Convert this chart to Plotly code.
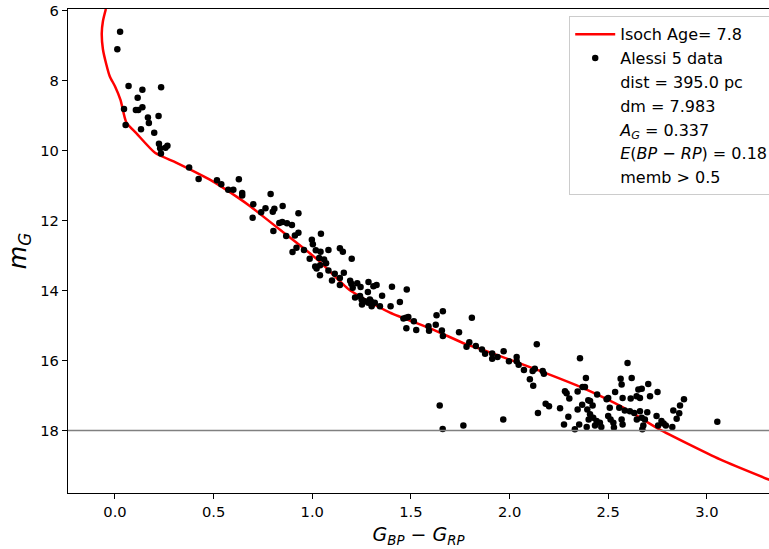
import plotly.graph_objects as go

# Isochrone (colour, magnitude)
iso_color = [-0.046, -0.061, -0.067, -0.061, -0.043, -0.026, 0.0, 0.028, 0.058, 0.108,
             0.203, 0.31, 0.481, 0.633, 0.685, 0.854, 1.025, 1.186, 1.242, 1.394,
             1.61, 1.781, 1.862, 2.154, 2.376, 2.577, 2.753, 3.067, 3.333]
iso_mag = [5.95, 6.3, 6.65, 7.1, 7.55, 7.88, 8.16, 8.55, 9.2, 9.5,
           10.06, 10.34, 10.83, 11.38, 11.59, 12.34, 13.11, 13.97, 14.17, 14.63,
           15.11, 15.54, 15.69, 16.3, 16.8, 17.35, 17.95, 18.83, 19.45]

# Alessi 5 members (BP-RP, G)
star_color = [
    0.026, 0.012, 0.069, 0.139, 0.234, 0.115, 0.046, 0.106, 0.118, 0.139,
    0.167, 0.221, 0.172, 0.054, 0.132, 0.199, 0.223, 0.229, 0.233, 0.256,
    0.266, 0.376, 0.424, 0.517, 0.539, 0.628, 0.574, 0.6, 0.645, 0.645,
    0.701, 0.698, 0.741, 0.763, 0.789, 0.8, 0.808, 0.85, 0.93, 0.803,
    0.833, 0.848, 0.872, 0.897, 0.868, 0.912, 0.93, 0.9, 0.92, 0.958,
    0.998, 1.003, 1.044, 1.018, 1.042, 1.082, 0.987, 1.035, 1.06, 1.14,
    1.155, 1.2, 1.015, 1.04, 1.07, 1.022, 1.082, 1.039, 1.114, 1.1,
    1.14, 1.16, 1.192, 1.14, 1.198, 1.228, 1.245, 1.205, 1.285, 1.31,
    1.326, 1.282, 1.242, 1.25, 1.267, 1.284, 1.297, 1.317, 1.354, 1.404,
    1.479, 1.343, 1.397, 1.444, 1.301, 1.217, 1.252, 1.292,
    1.475, 1.487, 1.462, 1.477, 1.515, 1.527, 1.589, 1.592, 1.626, 1.63,
    1.662, 1.657, 1.662, 1.744, 1.809, 1.796, 1.782, 1.829, 1.86, 1.876,
    1.912, 1.912, 1.939, 1.97, 1.997, 2.036, 2.036, 2.046, 2.073, 2.103,
    2.12, 2.117, 2.128, 2.138, 2.168, 2.174, 2.183, 2.2, 2.144, 1.646,
    1.661, 1.766, 1.968,
    2.357, 2.598, 2.256, 2.281, 2.289, 2.303, 2.276, 2.298, 2.331, 2.345,
    2.353, 2.368, 2.37, 2.382, 2.387, 2.345, 2.399, 2.408, 2.421, 2.394,
    2.408, 2.401, 2.391, 2.424, 2.444, 2.441, 2.433, 2.458, 2.465, 2.492,
    2.5, 2.508, 2.5, 2.512, 2.526, 2.529, 2.535, 2.563, 2.568, 2.573,
    2.556, 2.584, 2.568, 2.573, 2.614, 2.619, 2.61, 2.632, 2.653, 2.67,
    2.644, 2.661, 2.661, 2.645, 2.67, 2.678, 2.703, 2.712, 2.698, 2.745,
    2.75,
    2.884, 2.864, 2.83, 2.86, 2.847, 2.686, 2.77, 2.781, 2.792, 2.753,
    2.825, 3.053, 2.673]
star_mag = [
    6.6, 7.1, 8.15, 8.26, 8.19, 8.49, 8.81, 8.84, 8.84, 8.76,
    9.05, 9.01, 9.21, 9.27, 9.39, 9.49, 9.8, 9.93, 10.08, 9.92,
    9.86, 10.48, 10.81, 10.85, 10.96, 10.82, 11.12, 11.12, 11.21, 11.28,
    11.53, 11.92, 11.76, 11.65, 11.24, 11.75, 11.66, 11.58, 11.79, 12.3,
    12.07, 12.04, 12.08, 12.13, 12.44, 12.43, 12.35, 12.9, 12.78, 12.84,
    12.55, 12.68, 12.38, 12.85, 12.89, 12.84, 13.09, 13.07, 13.11, 12.79,
    12.89, 13.09, 13.31, 13.28, 13.22, 13.37, 13.43, 13.56, 13.52, 13.71,
    13.64, 13.49, 13.72, 13.84, 13.81, 13.79, 13.9, 13.92, 13.76, 13.88,
    13.84, 14.04, 14.16, 14.26, 14.31, 14.35, 14.31, 14.35, 14.15, 13.89,
    13.97, 14.45, 14.45, 14.33, 14.45, 14.2, 14.4, 14.26,
    14.78, 14.76, 14.8, 15.08, 14.88, 15.13, 15.02, 15.15, 14.98, 14.71,
    14.59, 15.14, 15.3, 15.19, 14.78, 15.48, 15.61, 15.59, 15.69, 15.81,
    15.8, 15.95, 15.9, 15.74, 16.02, 15.9, 16.02, 16.12, 16.27, 16.54,
    16.72, 16.3, 16.24, 15.54, 16.3, 16.38, 17.24, 17.31, 17.5, 17.29,
    17.96, 17.86, 17.69,
    15.94, 16.07, 17.37, 16.88, 16.94, 17.09, 17.83, 17.61, 17.97, 17.4,
    17.83, 17.27, 16.76, 16.76, 16.5, 16.89, 17.14, 17.16, 17.29, 17.4,
    17.54, 17.69, 17.9, 17.64, 16.97, 17.73, 17.86, 17.78, 17.9, 17.11,
    17.07, 17.35, 17.59, 17.69, 17.78, 17.92, 16.9, 16.52, 16.69, 17.07,
    17.35, 17.43, 17.69, 17.83, 17.09, 16.5, 17.45, 17.5, 16.83, 16.81,
    17.02, 17.07, 17.45, 17.69, 17.64, 17.86, 16.67, 17.02, 17.48, 17.59,
    16.9,
    17.11, 17.29, 17.43, 17.51, 17.67, 17.69, 17.73, 17.8, 17.86, 17.86,
    17.9, 17.75, 17.97]

mag_limit = 18.0
info_lines = ["dist = 395.0 pc", "dm = 7.983",
              "<i>A</i><sub><i>G</i></sub> = 0.337",
              "<i>E</i>(<i>BP</i> \u2212 <i>RP</i>) = 0.18",
              "memb &gt; 0.5"]

FONT = "DejaVu Sans"

fig = go.Figure()
fig.add_trace(go.Scatter(x=iso_color, y=iso_mag, mode="lines",
                         line=dict(color="red", width=2.5, shape="spline", smoothing=0.6),
                         name="Isoch Age= 7.8"))
fig.add_trace(go.Scatter(x=star_color, y=star_mag, mode="markers",
                         marker=dict(color="black", size=6.5),
                         name="Alessi 5 data"))
for t in info_lines:
    fig.add_trace(go.Scatter(x=[None], y=[None], mode="lines",
                             line=dict(color="rgba(0,0,0,0)", width=0), name=t))

fig.add_hline(y=mag_limit, line=dict(color="#808080", width=1.5))

fig.update_layout(
    width=769, height=549,
    margin=dict(l=68, r=0, t=9, b=56, autoexpand=False),
    paper_bgcolor="white", plot_bgcolor="white",
    font=dict(family=FONT, color="black", size=14.7),
    showlegend=True,
    legend=dict(x=0.715, y=0.985, xanchor="left", yanchor="top",
                bgcolor="rgba(255,255,255,0.85)", bordercolor="#cccccc", borderwidth=1,
                font=dict(family=FONT, size=16, color="black"),
                itemwidth=40, tracegroupgap=0),
    xaxis=dict(range=[-0.238, 3.315], showgrid=False, zeroline=False,
               showline=True, linecolor="black", linewidth=1.2, mirror=True,
               ticks="outside", ticklen=5, tickcolor="black", automargin=False,
               tickvals=[0, 0.5, 1.0, 1.5, 2.0, 2.5, 3.0],
               ticktext=["0.0", "0.5", "1.0", "1.5", "2.0", "2.5", "3.0"],
               title=dict(text="<i>G</i><sub><i>BP</i></sub> \u2212 <i>G</i><sub><i>RP</i></sub>",
                          font=dict(size=19), standoff=8)),
    yaxis=dict(range=[19.79, 5.95], showgrid=False, zeroline=False,
               showline=True, linecolor="black", linewidth=1.2, mirror=False,
               ticks="outside", ticklen=5, tickcolor="black", automargin=False,
               tickvals=[6, 8, 10, 12, 14, 16, 18],
               title=dict(text="<i>m</i><sub><i>G</i></sub>", font=dict(size=24), standoff=6)),
)

fig.write_html("out.html")
